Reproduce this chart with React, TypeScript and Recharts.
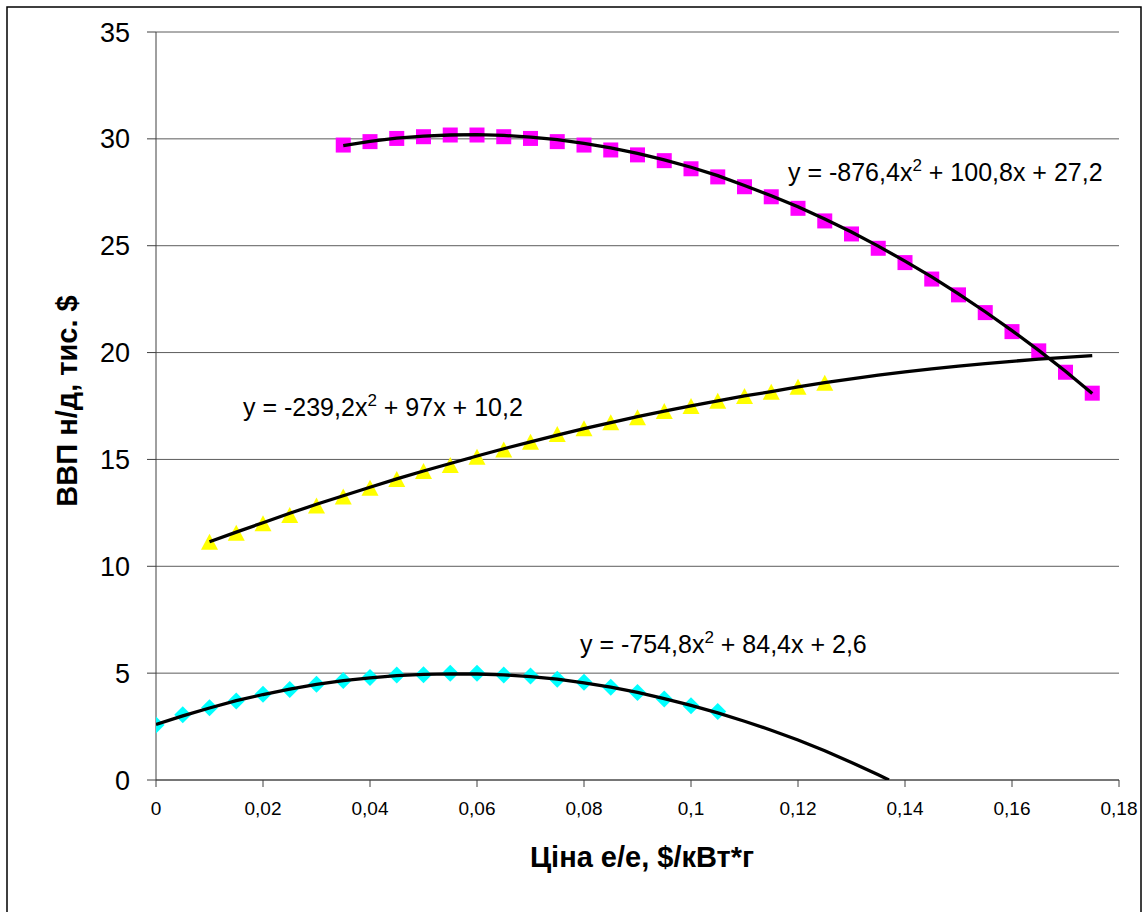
import { CartesianGrid, Scatter, ScatterChart, XAxis, YAxis } from "recharts";

const W = 1144;
const H = 912;
const FONT = "'Liberation Sans', Arial, sans-serif";
const AXIS = "#404040";
const GRID = "#5c5c5c";
const BORDER = "#a0a0a0";

// price grid, $/kWh (step 0.005)
const X_GRID = [
  0, 0.005, 0.01, 0.015, 0.02, 0.025, 0.03, 0.035, 0.04, 0.045, 0.05, 0.055,
  0.06, 0.065, 0.07, 0.075, 0.08, 0.085, 0.09, 0.095, 0.1, 0.105, 0.11, 0.115,
  0.12, 0.125, 0.13, 0.135, 0.14, 0.145, 0.15, 0.155, 0.16, 0.165, 0.17, 0.175,
];
const X_TICKS = [0, 0.02, 0.04, 0.06, 0.08, 0.1, 0.12, 0.14, 0.16, 0.18];
const Y_TICKS = [0, 5, 10, 15, 20, 25, 30, 35];

// magenta squares, 0.035 .. 0.175
const MAGENTA = [
  29.71, 29.87, 30.02, 30.1, 30.18, 30.18, 30.1, 30.02, 29.87, 29.71, 29.48,
  29.25, 28.98, 28.6, 28.22, 27.76, 27.29, 26.75, 26.16, 25.55, 24.88, 24.21,
  23.44, 22.7, 21.87, 20.98, 20.08, 19.08, 18.1,
];
const MAGENTA_TREND = [
  29.68, 29.88, 30.03, 30.13, 30.18, 30.2, 30.16, 30.08, 29.96, 29.79, 29.58,
  29.32, 29.02, 28.67, 28.28, 27.82, 27.34, 26.82, 26.25, 25.64, 24.98, 24.28,
  23.54, 22.75, 21.91, 21.03, 20.1, 19.13, 18.08,
];

// yellow triangles, 0.01 .. 0.125 (trend to 0.175)
const YELLOW = [
  11.15, 11.57, 12.01, 12.4, 12.84, 13.26, 13.68, 14.09, 14.46, 14.74, 15.13,
  15.47, 15.83, 16.19, 16.46, 16.74, 16.97, 17.27, 17.5, 17.74, 17.97, 18.17,
  18.4, 18.59,
];
const YELLOW_TREND = [
  11.15, 11.6, 12.04, 12.48, 12.9, 13.3, 13.7, 14.09, 14.46, 14.81, 15.16,
  15.5, 15.82, 16.14, 16.44, 16.72, 17.0, 17.26, 17.51, 17.74, 17.97, 18.17,
  18.39, 18.59, 18.77, 18.94, 19.1, 19.24, 19.37, 19.48, 19.59, 19.69, 19.78,
  19.86,
];

// cyan diamonds, 0 .. 0.105 (trend down to zero crossing)
const CYAN = [
  2.57, 3.05, 3.38, 3.7, 4.01, 4.24, 4.48, 4.65, 4.8, 4.91, 4.93, 4.99, 4.99,
  4.91, 4.87, 4.71, 4.57, 4.34, 4.1, 3.79, 3.48, 3.2,
];
const CYAN_TREND = [
  2.6, 3.0, 3.37, 3.71, 4.0, 4.25, 4.47, 4.65, 4.78, 4.88, 4.94, 4.97, 4.96,
  4.92, 4.84, 4.72, 4.55, 4.35, 4.1, 3.81, 3.49, 3.14, 2.75, 2.33, 1.87, 1.37,
  0.82, 0.25,
];
const CYAN_TREND_END = { x: 0.137, y: 0 };

const zip = (xs: number[], ys: number[]) => ys.map((y, i) => ({ x: xs[i], y }));

const magentaPts = zip(X_GRID.slice(7), MAGENTA);
const magentaTrend = zip(X_GRID.slice(7), MAGENTA_TREND);
const yellowPts = zip(X_GRID.slice(2), YELLOW);
const yellowTrend = zip(X_GRID.slice(2), YELLOW_TREND);
const cyanPts = zip(X_GRID, CYAN);
const cyanTrend = [...zip(X_GRID, CYAN_TREND), CYAN_TREND_END];

const fmtX = (v: number) => String(+v.toFixed(2)).replace(".", ",");

const Square = (p: any) => (
  <rect x={p.cx - 7.5} y={p.cy - 7.5} width={15} height={15} fill="#ff00ff" />
);
const Triangle = (p: any) => (
  <polygon
    points={`${p.cx},${p.cy - 8} ${p.cx + 8.5},${p.cy + 8} ${p.cx - 8.5},${p.cy + 8}`}
    fill="#ffff00"
  />
);
const Diamond = (p: any) => (
  <polygon
    points={`${p.cx},${p.cy - 8.5} ${p.cx + 8.5},${p.cy} ${p.cx},${p.cy + 8.5} ${p.cx - 8.5},${p.cy}`}
    fill="#00ffff"
  />
);
const NoDot = () => <g />;

const trendLine = { stroke: "#000", strokeWidth: 3.3 };

function Equation({ x, y, head, tail }: { x: number; y: number; head: string; tail: string }) {
  return (
    <text x={x} y={y} fontSize={25} fontFamily={FONT} fill="#000" style={{ whiteSpace: "pre" }}>
      {head}
      <tspan dy={-10} fontSize={17}>2</tspan>
      <tspan dy={10}>{tail}</tspan>
    </text>
  );
}

export default function App() {
  return (
    <div style={{ position: "absolute", left: 0, top: 0, width: W, height: H, background: "#fff" }}>
      <ScatterChart
        width={W}
        height={H}
        margin={{ top: 32, right: 25, bottom: 82, left: 0 }}
      >
        <CartesianGrid stroke={GRID} vertical={false} />
        <XAxis
          type="number"
          dataKey="x"
          domain={[0, 0.18]}
          ticks={X_TICKS}
          tickFormatter={fmtX}
          height={50}
          tickSize={7}
          tickMargin={15}
          axisLine={{ stroke: AXIS }}
          tickLine={{ stroke: AXIS }}
          tick={{ fontSize: 19, fill: "#000", fontFamily: FONT }}
          allowDataOverflow
        />
        <YAxis
          type="number"
          dataKey="y"
          domain={[0, 35]}
          ticks={Y_TICKS}
          width={156}
          tickSize={9}
          tickMargin={17}
          axisLine={{ stroke: AXIS }}
          tickLine={{ stroke: AXIS }}
          tick={{ fontSize: 27, fill: "#000", fontFamily: FONT }}
          allowDataOverflow
        />
        <XAxis
          xAxisId="top"
          orientation="top"
          type="number"
          domain={[0, 0.18]}
          height={0}
          tick={false}
          tickLine={false}
          axisLine={{ stroke: BORDER }}
        />
        <YAxis
          yAxisId="right"
          orientation="right"
          type="number"
          domain={[0, 35]}
          width={0}
          tick={false}
          tickLine={false}
          axisLine={{ stroke: BORDER }}
        />
        <Scatter data={magentaPts} shape={Square} isAnimationActive={false} />
        <Scatter data={yellowPts} shape={Triangle} isAnimationActive={false} />
        <Scatter data={cyanPts} shape={Diamond} isAnimationActive={false} />
        <Scatter data={magentaTrend} shape={NoDot} line={trendLine} isAnimationActive={false} />
        <Scatter data={yellowTrend} shape={NoDot} line={trendLine} isAnimationActive={false} />
        <Scatter data={cyanTrend} shape={NoDot} line={trendLine} isAnimationActive={false} />
      </ScatterChart>
      <svg
        width={W}
        height={H}
        style={{ position: "absolute", left: 0, top: 0, pointerEvents: "none" }}
      >
        <rect x={7} y={7} width={1134} height={1000} fill="none" stroke="#000" strokeWidth={1.5} />
        <Equation x={788} y={181} head="y = -876,4x" tail=" + 100,8x + 27,2" />
        <Equation x={243} y={416} head="y = -239,2x" tail=" + 97x + 10,2" />
        <Equation x={580} y={653} head="y = -754,8x" tail=" + 84,4x + 2,6" />
        <text
          x={642}
          y={867}
          textAnchor="middle"
          fontSize={29}
          fontWeight="bold"
          fontFamily={FONT}
          fill="#000"
        >
          Ціна е/е, $/кВт*г
        </text>
        <text
          transform="translate(77, 401) rotate(-90)"
          textAnchor="middle"
          fontSize={29}
          fontWeight="bold"
          fontFamily={FONT}
          fill="#000"
        >
          ВВП н/д, тис. $
        </text>
      </svg>
    </div>
  );
}
